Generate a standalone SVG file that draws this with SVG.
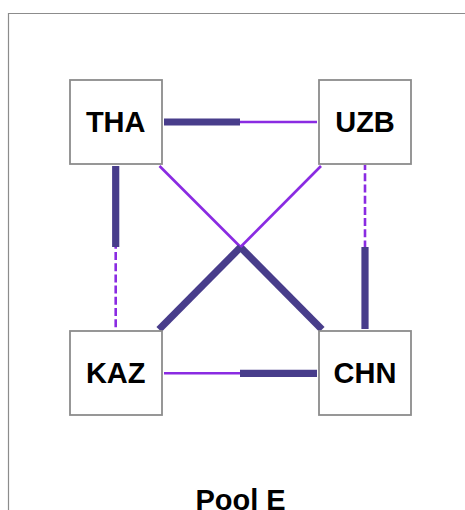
<svg xmlns="http://www.w3.org/2000/svg" width="465" height="510" viewBox="0 0 465 510">
<style>
.frame{fill:none;stroke:#8c8c8c;stroke-width:1.2}
.box{fill:#ffffff;stroke:#8c8c8c;stroke-width:1.8}
.lbl{font-family:"Liberation Sans",Arial,sans-serif;font-weight:bold;font-size:29px;fill:#000000;text-anchor:middle}
.thick{stroke:#483d8b;stroke-width:7.2;fill:none;stroke-linecap:butt}
.thin{stroke:#8a2be2;stroke-width:2.6;fill:none;stroke-linecap:butt}
.dash{stroke:#8a2be2;stroke-width:2.6;fill:none;stroke-dasharray:8 3.2}
</style>
<rect width="465" height="510" fill="#ffffff"/>
<path class="frame" d="M8.5,510 V13.5 H465"/>
<g id="connectors">
<line class="thick" x1="164" y1="122" x2="240" y2="122"/>
<line class="thin" x1="240" y1="122" x2="317" y2="122"/>
<line class="thin" x1="164" y1="373.3" x2="240" y2="373.3"/>
<line class="thick" x1="240" y1="373.3" x2="317" y2="373.3"/>
<line class="thick" x1="115.7" y1="166" x2="115.7" y2="247"/>
<line class="dash" x1="115.7" y1="247" x2="115.7" y2="329" stroke-dashoffset="6.2"/>
<line class="dash" x1="365" y1="165" x2="365" y2="247" stroke-dashoffset="2.9"/>
<line class="thick" x1="365" y1="247" x2="365" y2="329"/>
<line class="thin" x1="159.5" y1="166" x2="240.5" y2="247"/>
<line class="thick" x1="240.5" y1="247.3" x2="322" y2="329.5"/>
<line class="thin" x1="321" y1="166" x2="240.5" y2="247"/>
<line class="thick" x1="240.5" y1="247.3" x2="159" y2="329.5"/>
</g>
<g id="THA"><rect class="box" x="70" y="80" width="92" height="84"/><text class="lbl" x="115.7" y="132">THA</text></g>
<g id="UZB"><rect class="box" x="319" y="80" width="92" height="84"/><text class="lbl" x="365" y="132">UZB</text></g>
<g id="KAZ"><rect class="box" x="70" y="331" width="92" height="84"/><text class="lbl" x="115.7" y="383.3">KAZ</text></g>
<g id="CHN"><rect class="box" x="319" y="331" width="92" height="84"/><text class="lbl" x="365" y="383.3">CHN</text></g>
<text class="lbl" x="240.5" y="509.5">Pool E</text>
</svg>
